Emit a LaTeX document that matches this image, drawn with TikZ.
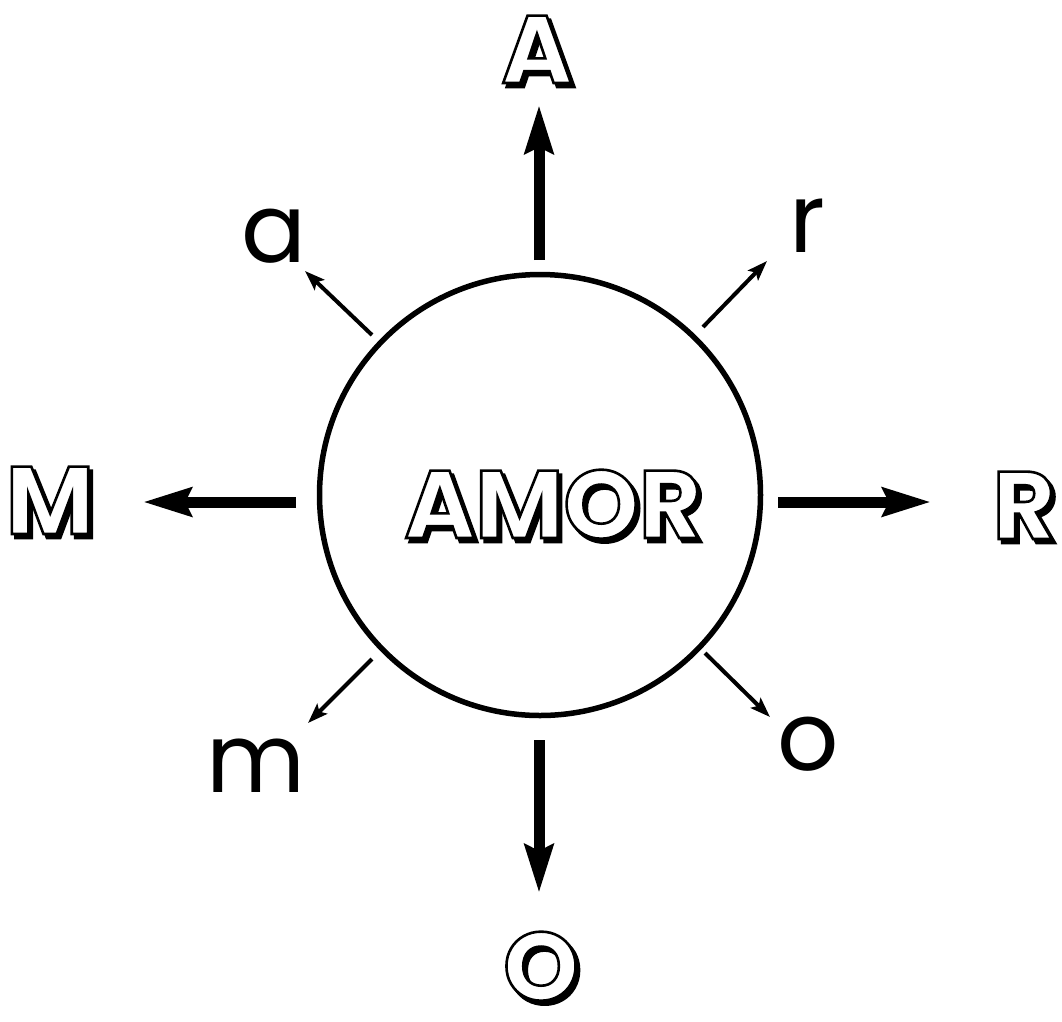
\documentclass[tikz,border=0pt]{standalone}
\usepackage{fontspec}
\setmainfont{Poppins}
\usetikzlibrary{arrows.meta}
\newcommand\strokedtext[3]{\special{pdf:literal direct 2 Tr #1 w 0 G #2 g}#3\special{pdf:literal direct 0 Tr 0 g 0 G}}
\newcommand\shdw[1]{\leavevmode\rlap{\kern3.5pt\raisebox{-4pt}{\strokedtext{2.6}{0}{#1}}}\strokedtext{2.6}{1}{#1}}
\begin{document}
\begin{tikzpicture}[x=1pt,y=-1pt,
  bigarrow/.style={line width=11pt,-{Stealth[length=48pt,width=28pt,inset=6pt]}},
  smallarrow/.style={line width=4pt,-{Stealth[length=20pt,width=14pt,inset=4pt]}},
  caplab/.style={font=\bfseries\fontsize{96}{100}\selectfont,inner sep=0pt,anchor=base},
  lowlab/.style={font=\fontsize{96}{100}\selectfont,inner sep=0pt,anchor=base}]
\useasboundingbox (0,0) rectangle (1062,1021);
\node[circle,draw,line width=5.5pt,minimum size=441pt,inner sep=0pt,outer sep=0pt] (c) at (540,495) {};
\node[caplab] (amor) at (553,538) {\shdw{AMOR}};
% capital labels
\node[caplab] (A) at (537,83) {\shdw{A}};
\node[caplab] (O) at (541,1000) {\shdw{O}};
\node[caplab] (M) at (50,534) {\shdw{M}};
\node[caplab] (R) at (1024,539) {\shdw{R}};
% small labels
\node[lowlab] (a) at (274,262) {a};
\node[lowlab] (r) at (807,252) {r};
\node[lowlab] (m) at (256,792) {m};
\node[lowlab] (o) at (808,770) {o};
% connector ends
\coordinate (sA) at (539,260); \coordinate (tA) at (539,105);
\coordinate (sO) at (539,740); \coordinate (tO) at (539,893);
\coordinate (sM) at (296,502); \coordinate (tM) at (143,502);
\coordinate (sR) at (778,502); \coordinate (tR) at (931,502);
\coordinate (sa) at (372,335); \coordinate (ta) at (305,271);
\coordinate (sr) at (703,327); \coordinate (tr) at (767,261);
\coordinate (sm) at (372,659); \coordinate (tm) at (308,723);
\coordinate (so) at (705,653); \coordinate (to) at (770,717);
\draw[bigarrow] (sA) -- (tA);
\draw[bigarrow] (sO) -- (tO);
\draw[bigarrow] (sM) -- (tM);
\draw[bigarrow] (sR) -- (tR);
\draw[smallarrow] (sa) -- (ta);
\draw[smallarrow] (sr) -- (tr);
\draw[smallarrow] (sm) -- (tm);
\draw[smallarrow] (so) -- (to);
\end{tikzpicture}
\end{document}
